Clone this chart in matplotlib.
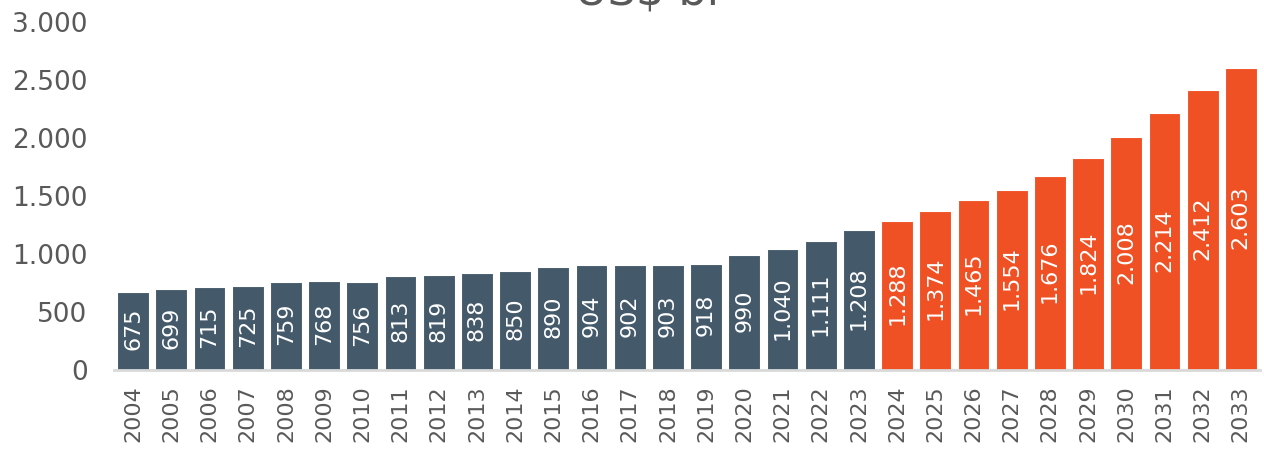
import matplotlib.pyplot as plt

years = [str(y) for y in range(2004, 2034)]
values = [675, 699, 715, 725, 759, 768, 756, 813, 819, 838,
          850, 890, 904, 902, 903, 918, 990, 1040, 1111, 1208,
          1288, 1374, 1465, 1554, 1676, 1824, 2008, 2214, 2412, 2603]
last_actual = "2023"

dark = "#44596A"
orange = "#EF5124"
grey = "#595959"


def fmt(v):
    # thousands separator as dot
    return f"{v:,}".replace(",", ".")


fig = plt.figure(figsize=(12.64, 4.5), dpi=100)
ax = fig.add_axes([0.0902, 0.1778, 0.9066, 0.7733])

colors = [dark if int(y) <= int(last_actual) else orange for y in years]
x = range(len(years))
bars = ax.bar(x, values, width=0.83, color=colors, edgecolor="white", linewidth=0.8)

for b, v in zip(bars, values):
    ax.text(b.get_x() + b.get_width() / 2, v / 2 + 15, fmt(v), rotation=90,
            ha="center", va="center", color="white", fontsize=16)

ax.set_xlim(-0.5, len(years) - 0.5)
ax.set_ylim(0, 3000)
ax.set_yticks(range(0, 3001, 500))
ax.set_yticklabels([fmt(t) for t in range(0, 3001, 500)])
ax.set_xticks(list(x))
ax.set_xticklabels(years, rotation=90)

ax.tick_params(axis="y", length=0, pad=19, labelsize=19, labelcolor=grey)
ax.tick_params(axis="x", length=0, pad=11, labelsize=16, labelcolor=grey)

for s in ["top", "right", "left"]:
    ax.spines[s].set_visible(False)
ax.spines["bottom"].set_color("#D9D9D9")
ax.spines["bottom"].set_linewidth(2)

fig.text(0.512, 0.99, "US$ bi", ha="center", va="baseline", fontsize=32, color=grey)

fig.savefig("out.png", dpi=100)
